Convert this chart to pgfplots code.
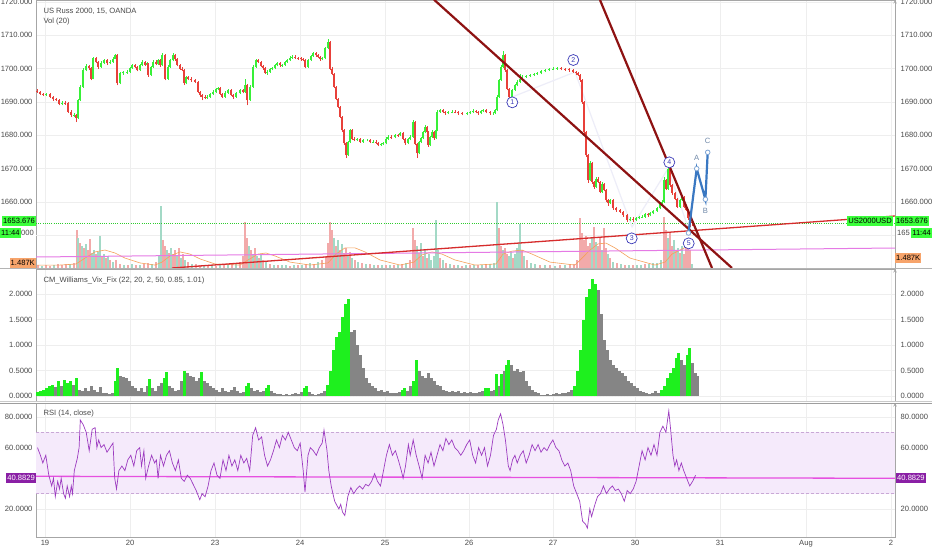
\documentclass[border=0pt]{standalone}
\usepackage{fontspec}
\setmainfont{Liberation Sans}
\usepackage{pgfplots}
\usepackage{pgfplotstable}
\pgfplotsset{compat=1.18}

\definecolor{gridc}{HTML}{EEEEEE}
\definecolor{axc}{HTML}{A6A6A6}
\definecolor{txt}{HTML}{4A4A4A}
\definecolor{candleup}{HTML}{38F038}
\definecolor{candledn}{HTML}{E8403A}
\definecolor{volup}{HTML}{A3D9C6}
\definecolor{voldn}{HTML}{F2AAAA}
\definecolor{volma}{HTML}{F5A15A}
\definecolor{trend}{HTML}{8E1212}
\definecolor{trendred}{HTML}{D62C2C}
\definecolor{orchidl}{HTML}{E57AE5}
\definecolor{lastgreen}{HTML}{3BFF3B}
\definecolor{wave}{HTML}{3A3AB8}
\definecolor{faint}{HTML}{EDEDF8}
\definecolor{abc}{HTML}{3A78C2}
\definecolor{abcl}{HTML}{7FA6D6}
\definecolor{abct}{HTML}{6F88A8}
\definecolor{vixg}{HTML}{1EF01E}
\definecolor{vixgray}{HTML}{858585}
\definecolor{rsic}{HTML}{9C3BC0}
\definecolor{rsiband}{HTML}{F5EAFB}
\definecolor{rsidash}{HTML}{C9A8D6}
\definecolor{rsimid}{HTML}{E650E0}
\definecolor{rsibox}{HTML}{8A1FA5}
\definecolor{volbox}{HTML}{F7A46B}
\definecolor{sepc}{HTML}{B4B4B4}

\newcommand\fs{\fontsize{7.6}{9}\selectfont}

% 15-minute candles, x = horizontal position on the chart
\pgfplotstableread{
x o h l c
37 1693.4 1693.8 1692.8 1693.1
40 1693.1 1693.4 1692.1 1692.5
43 1692.5 1692.8 1691.8 1692.1
46 1692.1 1692.7 1691.8 1692.3
50 1692.3 1692.6 1691.2 1691.6
53 1691.6 1691.9 1690.4 1690.8
56 1690.8 1691.2 1690.2 1690.6
59 1690.6 1690.9 1689.0 1689.4
62 1689.4 1690.3 1689.0 1689.8
65 1689.8 1690.2 1689.2 1689.6
68 1689.6 1689.9 1686.8 1687.1
71 1687.1 1687.5 1685.6 1686.0
74 1686.0 1686.8 1685.5 1686.1
76 1686.1 1686.4 1684.0 1685.2
78 1685.2 1691.0 1685.0 1690.6
80 1690.6 1695.0 1690.3 1694.6
83 1694.6 1700.2 1694.3 1699.6
86 1699.6 1701.3 1699.2 1700.8
89 1700.8 1701.2 1699.6 1700.1
91 1700.1 1700.4 1696.5 1697.0
93 1697.0 1703.6 1696.8 1703.1
96 1703.1 1703.5 1701.6 1702.0
98 1702.0 1702.3 1700.0 1700.6
101 1700.6 1702.2 1700.3 1701.8
104 1701.8 1703.0 1701.4 1702.6
107 1702.6 1702.9 1701.2 1701.6
110 1701.6 1702.6 1701.3 1702.1
113 1702.1 1703.4 1701.8 1703.0
115 1703.0 1704.5 1702.8 1704.1
117 1704.1 1704.3 1695.0 1695.6
120 1695.6 1699.0 1695.3 1698.6
123 1698.6 1699.4 1698.2 1698.9
127 1698.9 1699.6 1698.5 1699.1
130 1699.1 1700.6 1698.8 1700.2
132 1700.2 1701.5 1699.9 1701.1
135 1701.1 1701.5 1700.2 1700.6
137 1700.6 1700.9 1699.2 1699.6
140 1699.6 1701.4 1699.3 1701.0
142 1701.0 1702.5 1700.7 1702.1
145 1702.1 1702.4 1700.8 1701.2
147 1701.2 1702.0 1700.9 1701.6
148 1701.6 1701.8 1697.6 1698.1
151 1698.1 1700.9 1697.8 1700.5
153 1700.5 1702.5 1700.2 1702.1
156 1702.1 1702.5 1701.1 1701.5
158 1701.5 1703.0 1701.2 1702.6
160 1702.6 1702.9 1700.6 1701.0
162 1701.0 1704.6 1700.7 1704.1
165 1704.1 1704.4 1696.5 1697.0
168 1697.0 1701.0 1696.7 1700.6
170 1700.6 1702.9 1700.3 1702.5
173 1702.5 1704.6 1702.2 1704.1
175 1704.1 1704.4 1702.4 1702.8
177 1702.8 1703.1 1700.7 1701.1
180 1701.1 1701.4 1699.6 1700.0
182 1700.0 1700.4 1699.2 1699.6
184 1699.6 1699.9 1695.1 1695.6
186 1695.6 1697.9 1695.3 1697.5
188 1697.5 1697.9 1696.6 1697.0
191 1697.0 1697.4 1696.1 1696.5
195 1696.5 1696.9 1695.7 1696.1
198 1696.1 1696.4 1692.7 1693.1
200 1693.1 1693.4 1691.6 1692.0
202 1692.0 1692.4 1690.5 1691.6
205 1691.6 1692.0 1690.8 1691.2
207 1691.2 1692.0 1690.9 1691.6
210 1691.6 1692.8 1691.3 1692.4
213 1692.4 1693.5 1692.1 1693.1
216 1693.1 1694.2 1692.8 1693.8
218 1693.8 1694.6 1693.5 1694.1
220 1694.1 1694.4 1692.1 1692.5
222 1692.5 1692.8 1691.2 1691.6
225 1691.6 1693.2 1691.3 1692.8
228 1692.8 1694.0 1692.5 1693.6
231 1693.6 1693.9 1691.8 1692.2
233 1692.2 1692.5 1690.9 1691.6
236 1691.6 1693.1 1691.3 1692.7
240 1692.7 1694.0 1692.4 1693.6
243 1693.6 1693.9 1692.6 1693.0
245 1693.0 1696.8 1692.7 1695.1
247 1695.1 1695.4 1689.0 1690.6
250 1690.6 1695.0 1690.3 1694.6
253 1694.6 1701.0 1694.3 1700.6
256 1700.6 1702.9 1700.3 1702.5
258 1702.5 1702.9 1701.7 1702.1
261 1702.1 1702.4 1700.4 1700.8
263 1700.8 1701.1 1699.7 1700.1
265 1700.1 1700.4 1698.4 1698.8
267 1698.8 1699.5 1698.2 1699.1
270 1699.1 1700.2 1698.8 1699.8
272 1699.8 1700.5 1699.5 1700.1
275 1700.1 1701.4 1699.8 1701.0
277 1701.0 1702.0 1700.7 1701.6
280 1701.6 1701.9 1700.6 1701.0
282 1701.0 1701.5 1700.6 1701.1
285 1701.1 1702.4 1700.8 1702.0
287 1702.0 1703.0 1701.7 1702.6
290 1702.6 1703.7 1702.3 1703.3
292 1703.3 1704.0 1703.0 1703.6
295 1703.6 1704.0 1702.9 1703.3
298 1703.3 1703.6 1702.7 1703.1
301 1703.1 1703.4 1702.4 1702.8
303 1702.8 1703.1 1702.2 1702.6
305 1702.6 1702.9 1700.1 1700.6
308 1700.6 1703.0 1700.3 1702.6
311 1702.6 1704.2 1702.3 1703.8
313 1703.8 1705.0 1703.5 1704.6
316 1704.6 1704.9 1703.6 1704.0
318 1704.0 1704.3 1703.2 1703.6
320 1703.6 1703.9 1702.4 1702.8
322 1702.8 1703.5 1702.5 1703.1
325 1703.1 1706.5 1702.8 1706.1
328 1706.1 1708.8 1705.8 1708.0
330 1708.0 1708.3 1699.5 1700.0
332 1700.0 1700.4 1698.0 1698.5
334 1698.5 1698.8 1694.1 1694.6
336 1694.6 1694.9 1690.5 1691.0
338 1691.0 1691.3 1688.1 1688.6
340 1688.6 1688.9 1685.1 1685.6
342 1685.6 1685.9 1681.0 1681.5
344 1681.5 1681.8 1677.1 1677.6
346 1677.6 1677.9 1673.2 1674.1
348 1674.1 1678.4 1673.8 1678.0
350 1678.0 1682.0 1677.7 1681.6
352 1681.6 1681.9 1678.6 1679.0
354 1679.0 1679.4 1678.2 1678.6
357 1678.6 1679.3 1678.2 1678.9
360 1678.9 1679.2 1677.7 1678.1
363 1678.1 1679.0 1677.8 1678.6
367 1678.6 1679.0 1678.2 1678.6
370 1678.6 1678.9 1677.6 1678.0
373 1678.0 1678.5 1677.6 1678.1
376 1678.1 1678.5 1677.4 1677.8
378 1677.8 1678.1 1676.7 1677.1
381 1677.1 1677.7 1676.8 1677.3
383 1677.3 1678.0 1677.0 1677.6
386 1677.6 1679.4 1677.3 1679.0
388 1679.0 1680.0 1678.7 1679.6
391 1679.6 1680.0 1679.0 1679.4
395 1679.4 1680.5 1679.1 1680.1
398 1680.1 1680.5 1679.6 1680.0
400 1680.0 1681.0 1679.7 1680.6
403 1680.6 1680.9 1678.6 1679.0
405 1679.0 1679.3 1677.2 1677.6
408 1677.6 1679.2 1677.3 1678.8
410 1678.8 1680.0 1678.5 1679.6
413 1679.6 1684.6 1679.3 1684.1
415 1684.1 1684.4 1677.0 1677.5
417 1677.5 1677.8 1673.2 1674.6
419 1674.6 1678.4 1674.3 1678.0
421 1678.0 1679.5 1677.7 1679.1
423 1679.1 1681.4 1678.8 1681.0
425 1681.0 1683.0 1680.7 1682.6
427 1682.6 1682.9 1680.6 1681.0
428 1681.0 1681.3 1676.6 1677.1
430 1677.1 1679.9 1676.8 1679.5
432 1679.5 1681.5 1679.2 1681.1
434 1681.1 1681.4 1678.7 1679.1
436 1679.1 1681.9 1678.8 1681.5
437 1681.5 1687.5 1681.2 1687.1
440 1687.1 1688.0 1686.8 1687.6
443 1687.6 1687.9 1686.6 1687.0
445 1687.0 1687.4 1686.2 1686.6
448 1686.6 1687.3 1686.3 1686.9
452 1686.9 1687.5 1686.6 1687.1
455 1687.1 1687.5 1686.6 1687.0
458 1687.0 1687.3 1686.2 1686.6
462 1686.6 1686.9 1686.0 1686.4
467 1686.4 1687.0 1686.0 1686.6
470 1686.6 1687.4 1686.3 1687.0
473 1687.0 1687.8 1686.7 1687.4
476 1687.4 1687.7 1686.6 1687.0
478 1687.0 1687.3 1686.2 1686.6
481 1686.6 1687.6 1686.3 1687.2
483 1687.2 1688.0 1686.9 1687.6
486 1687.6 1687.9 1686.6 1687.0
490 1687.0 1687.3 1686.2 1686.6
493 1686.6 1687.0 1686.2 1686.6
495 1686.6 1688.0 1686.3 1687.6
497 1687.6 1692.0 1687.3 1691.6
499 1691.6 1697.0 1691.3 1696.6
501 1696.6 1701.0 1696.3 1700.6
503 1700.6 1705.2 1700.3 1704.0
505 1704.0 1704.3 1699.1 1699.6
507 1699.6 1699.9 1693.5 1694.0
509 1694.0 1694.3 1690.6 1691.6
512 1691.6 1694.0 1691.3 1693.6
515 1693.6 1695.4 1693.3 1695.0
517 1695.0 1696.5 1694.7 1696.1
520 1696.1 1698.5 1695.8 1697.0
522 1697.0 1698.0 1696.7 1697.6
526 1697.6 1698.2 1697.3 1697.8
530 1697.8 1698.5 1697.5 1698.1
534 1698.1 1698.8 1697.8 1698.4
537 1698.4 1699.0 1698.1 1698.6
541 1698.6 1699.6 1698.3 1699.2
545 1699.2 1700.0 1698.9 1699.6
549 1699.6 1700.3 1699.3 1699.9
553 1699.9 1700.4 1699.6 1700.0
557 1700.0 1700.5 1699.7 1700.1
561 1700.1 1700.5 1699.5 1699.9
565 1699.9 1700.3 1699.4 1699.8
569 1699.8 1700.2 1699.1 1699.5
573 1699.5 1699.9 1698.7 1699.1
576 1699.1 1699.4 1698.2 1698.6
578 1698.6 1698.9 1697.7 1698.1
580 1698.1 1698.4 1696.1 1696.6
582 1696.6 1696.9 1689.5 1690.0
584 1690.0 1690.3 1680.5 1681.0
586 1681.0 1681.3 1673.5 1674.0
588 1674.0 1674.3 1665.8 1666.6
590 1666.6 1672.4 1666.3 1671.6
592 1671.6 1671.9 1665.5 1666.0
594 1666.0 1666.3 1664.0 1664.6
596 1664.6 1667.4 1664.3 1667.0
598 1667.0 1667.4 1665.7 1666.1
600 1666.1 1666.4 1662.6 1663.0
602 1663.0 1665.9 1662.7 1665.5
604 1665.5 1665.8 1663.2 1663.6
606 1663.6 1663.9 1660.1 1660.5
608 1660.5 1660.9 1658.9 1659.6
610 1659.6 1660.9 1659.3 1660.5
613 1660.5 1660.8 1657.7 1658.1
616 1658.1 1658.5 1657.1 1657.5
620 1657.5 1657.9 1656.7 1657.1
623 1657.1 1657.4 1655.6 1656.0
627 1656.0 1656.3 1654.1 1654.6
630 1654.6 1655.4 1654.2 1655.0
633 1655.0 1655.4 1654.0 1654.6
636 1654.6 1655.6 1654.3 1655.2
639 1655.2 1655.8 1654.9 1655.4
642 1655.4 1656.0 1655.1 1655.6
645 1655.6 1656.8 1655.3 1656.4
648 1656.4 1656.8 1655.6 1656.0
650 1656.0 1657.0 1655.7 1656.6
653 1656.6 1657.7 1656.3 1657.3
657 1657.3 1658.5 1657.0 1658.1
660 1658.1 1659.9 1657.8 1659.5
662 1659.5 1660.5 1659.2 1660.1
664 1660.1 1667.5 1659.8 1666.6
666 1666.6 1666.9 1663.6 1664.0
668 1664.0 1670.8 1663.7 1670.0
670 1670.0 1670.3 1664.5 1665.0
672 1665.0 1665.3 1662.2 1662.6
675 1662.6 1662.9 1660.6 1661.0
677 1661.0 1661.3 1658.2 1658.6
680 1658.6 1660.9 1658.3 1660.5
682 1660.5 1662.0 1660.2 1661.6
684 1661.6 1661.9 1658.1 1658.5
686 1658.5 1658.9 1657.2 1657.6
688 1657.6 1657.9 1654.6 1655.1
690 1655.1 1655.4 1652.4 1654.0
692 1654.0 1654.6 1652.8 1653.7
}\candles

% volume in thousands, u = 1 for an up bar
\pgfplotstableread{
x v u
38 1.1 0
42 0.75 1
46 1.1 0
50 0.75 0
54 1.1 1
58 1.5 0
62 1.1 0
66 1.5 0
70 1.5 1
74 1.9 0
77 14.2 0
78 11.2 1
80 9.3 0
82 8.2 1
84 7.5 0
86 9.0 1
88 6.7 0
90 10.8 0
92 5.6 1
94 6.7 1
96 5.2 0
98 6.0 1
100 11.9 1
102 4.5 0
104 5.2 1
106 3.7 0
108 4.5 1
110 3.0 0
113 2.2 1
116 3.0 0
120 1.5 0
124 1.1 1
128 1.1 0
132 1.5 1
136 1.1 0
140 1.1 1
144 1.5 0
148 1.9 0
152 1.5 1
156 2.2 0
159 4.5 1
161 23.1 1
163 10.4 0
165 8.2 0
167 6.7 1
169 5.6 0
171 7.5 1
173 5.2 0
175 6.7 0
177 4.5 1
179 7.5 0
181 3.7 1
183 5.2 0
185 3.0 1
188 2.2 0
192 1.5 1
196 1.5 0
200 1.1 0
204 1.1 1
208 1.1 0
212 1.1 1
216 0.75 0
220 1.1 1
224 1.1 0
228 1.5 1
232 1.5 0
236 1.9 1
240 2.2 0
243 4.5 0
245 17.2 0
247 11.2 0
249 8.2 1
251 6.7 0
253 5.2 1
255 7.5 0
257 4.5 1
259 3.7 0
261 5.2 1
263 3.0 0
266 2.2 1
270 1.5 0
274 1.1 1
278 1.1 0
282 1.1 1
286 1.1 1
290 0.75 0
294 1.1 1
298 1.1 0
302 1.1 1
306 1.5 0
310 1.9 1
314 1.5 0
318 2.2 1
322 3.0 0
326 4.5 0
328 9.3 0
330 17.2 0
332 14.2 0
334 11.2 1
336 8.2 0
338 10.4 1
340 6.7 0
342 9.0 1
344 5.6 0
346 7.5 0
348 4.5 1
350 6.0 0
352 3.7 1
355 3.0 0
358 2.2 1
362 1.9 0
366 1.5 1
370 1.5 0
374 1.1 1
378 1.1 0
382 1.1 1
386 1.1 0
390 1.1 1
394 1.1 0
398 1.1 1
402 1.5 0
406 1.9 1
410 3.0 0
413 14.9 0
415 10.4 0
417 8.2 1
419 5.6 0
421 9.3 1
423 4.5 0
425 6.7 1
427 3.7 0
429 5.2 1
431 3.0 1
434 4.5 1
436 17.9 1
438 6.7 1
440 3.7 0
443 3.0 1
446 1.9 0
450 1.5 1
454 1.1 0
458 1.1 1
462 0.75 0
466 1.1 1
470 1.1 0
474 1.1 1
478 1.1 0
482 1.1 1
486 1.5 0
490 1.5 1
494 1.9 1
497 24.6 1
499 14.9 0
501 8.2 0
503 6.7 1
505 7.5 0
507 5.2 0
509 4.5 1
511 6.0 1
513 3.7 0
515 5.2 1
517 7.5 1
519 9.0 1
520 16.4 1
522 6.7 0
524 4.5 1
527 3.0 0
531 1.9 1
535 1.5 1
540 1.1 0
545 1.1 1
550 1.1 0
555 0.75 1
560 1.1 0
565 1.1 1
570 1.5 0
574 1.5 0
577 3.0 0
580 18.7 0
582 13.1 0
584 10.4 0
586 11.9 0
588 8.2 0
590 9.3 0
592 11.2 1
594 15.3 0
596 9.7 1
598 8.2 0
600 11.2 0
602 6.7 1
604 14.9 0
606 7.5 0
608 5.2 1
610 3.7 0
613 2.2 1
617 1.9 0
621 1.5 1
625 1.1 0
629 1.1 1
633 1.1 0
637 1.1 1
641 1.1 1
645 1.5 0
649 1.5 1
653 1.9 1
657 1.9 1
661 3.0 1
664 19.0 0
666 14.2 0
668 11.2 1
670 13.1 0
672 8.2 0
674 10.4 1
676 6.7 0
678 7.5 1
680 5.6 0
682 8.2 1
684 5.2 0
686 9.0 0
688 9.7 0
690 6.7 0
692 1.5 1
}\volume

\pgfplotstableread{
x v
37 1.1
60 1.1
76 1.5
85 3.7
95 6.0
105 6.7
115 5.6
125 3.7
140 1.9
155 1.1
162 2.2
170 4.5
180 6.0
190 5.2
200 3.4
215 1.5
240 1.1
248 3.0
258 5.2
266 5.6
275 4.5
290 2.2
310 1.1
328 1.9
336 5.2
345 7.5
355 7.5
365 6.0
380 3.0
400 1.1
414 2.2
422 4.9
432 6.0
442 5.2
455 3.0
475 1.1
496 1.5
503 5.2
512 6.3
522 6.7
532 5.2
550 2.2
575 1.1
582 3.7
590 6.7
598 9.0
606 9.3
615 7.5
630 3.7
655 1.1
665 2.2
672 5.2
680 6.7
688 8.2
692 7.8
}\volma

% CM Williams Vix Fix, g = 1 where the bar is highlighted
\pgfplotstableread{
x v g
37 0.08 1
40 0.10 1
43 0.12 1
46 0.15 1
49 0.20 1
52 0.22 1
55 0.18 0
58 0.30 1
61 0.20 0
64 0.32 1
67 0.25 1
70 0.30 1
73 0.22 0
76 0.35 1
79 0.12 0
82 0.10 0
85 0.15 0
88 0.10 0
91 0.20 0
94 0.12 0
97 0.08 0
100 0.18 0
103 0.05 0
106 0.05 0
109 0.04 0
112 0.06 0
115 0.30 1
117 0.55 1
120 0.40 0
123 0.38 0
126 0.35 0
129 0.30 0
132 0.20 0
135 0.15 0
138 0.10 0
141 0.15 0
144 0.08 0
147 0.20 0
149 0.33 1
152 0.15 0
155 0.10 0
158 0.20 0
161 0.25 0
164 0.35 1
166 0.48 1
169 0.20 0
172 0.15 0
175 0.10 0
178 0.12 0
181 0.30 0
184 0.50 1
187 0.45 0
190 0.40 0
193 0.38 0
196 0.30 0
199 0.35 0
201 0.48 1
204 0.30 0
207 0.25 0
210 0.20 0
213 0.15 0
216 0.12 0
219 0.08 0
222 0.15 0
225 0.10 0
228 0.08 0
231 0.12 0
234 0.18 0
237 0.10 0
240 0.05 0
243 0.08 0
246 0.20 1
248 0.25 1
251 0.15 0
254 0.10 0
257 0.12 0
260 0.08 0
263 0.10 0
266 0.15 1
268 0.22 1
271 0.10 0
274 0.05 0
277 0.04 0
280 0.03 0
283 0.02 0
286 0.03 0
289 0.02 0
292 0.04 0
295 0.05 0
298 0.03 0
301 0.08 0
304 0.15 1
306 0.20 1
309 0.08 0
312 0.03 0
315 0.02 0
318 0.03 0
321 0.05 0
324 0.10 0
327 0.22 1
330 0.50 1
333 0.90 1
336 1.15 1
339 1.25 1
342 1.55 1
345 1.80 1
348 1.90 1
351 1.25 0
354 1.30 0
357 1.00 0
360 0.80 0
363 0.55 0
366 0.35 0
369 0.25 0
372 0.20 0
375 0.15 0
378 0.10 0
381 0.12 0
384 0.08 0
387 0.10 0
390 0.05 0
393 0.06 0
396 0.05 0
399 0.08 0
402 0.12 1
404 0.15 1
407 0.10 0
410 0.20 0
413 0.30 1
416 0.70 1
419 0.50 0
422 0.40 0
425 0.35 0
428 0.45 0
431 0.35 0
434 0.30 0
437 0.22 0
440 0.20 0
443 0.12 0
446 0.10 0
449 0.08 0
452 0.10 0
455 0.08 0
458 0.10 0
461 0.06 0
464 0.08 0
467 0.05 0
470 0.08 0
473 0.06 0
476 0.05 0
479 0.08 0
482 0.10 0
485 0.15 1
488 0.15 1
491 0.10 0
494 0.12 0
496 0.43 1
499 0.20 0
501 0.43 1
504 0.50 0
506 0.60 1
508 0.70 1
511 0.60 0
514 0.50 0
517 0.52 0
520 0.48 0
523 0.50 0
526 0.30 0
529 0.20 0
532 0.12 0
535 0.08 0
538 0.05 0
541 0.02 0
544 0.01 0
547 0.03 0
550 0.02 0
553 0.04 0
556 0.05 0
559 0.03 0
562 0.06 0
565 0.05 0
568 0.08 0
571 0.12 0
574 0.20 1
577 0.50 1
580 0.90 1
583 1.50 1
586 1.95 1
589 2.10 1
592 2.30 1
595 2.20 1
598 2.08 0
601 1.60 0
604 1.10 0
607 0.90 0
610 0.70 0
613 0.60 0
616 0.55 0
619 0.50 0
622 0.45 0
625 0.40 0
628 0.30 0
631 0.25 0
634 0.20 0
637 0.15 0
640 0.10 0
643 0.08 0
646 0.05 0
649 0.04 0
652 0.06 0
655 0.10 0
658 0.05 0
661 0.12 1
664 0.20 1
667 0.35 1
670 0.45 1
673 0.55 1
676 0.75 1
678 0.85 1
681 0.70 0
684 0.60 0
687 0.80 1
689 0.95 1
692 0.65 0
695 0.45 0
697 0.40 0
}\vix

\pgfplotstableread{
x r
37.5 60
40.4 55
42.8 50
45.8 55
48.8 42
51.7 35
53.5 40
55.3 28
57.7 38
59.5 33
61.2 40
63.6 30
65.4 27
67.2 35
69.6 28
71.3 35
72.5 30
74.3 45
77.3 53
79.1 60
80.3 78
83.2 75
86.2 70
89.2 58
92.2 72
95.1 73
96.9 60
98.7 65
101.1 60
104 62
107 57
110 60
113 63
114.7 40
116.5 33
118.9 45
121.9 48
124.9 45
127.8 52
130.8 55
133.8 48
136.7 58
139.7 60
141.5 48
143.9 58
145.7 40
148.6 48
151.6 55
154.6 50
156.4 52
158.1 40
160.5 55
163.5 48
166.5 55
169.4 58
172.4 50
175.4 45
178.4 52
181.3 40
184.3 38
187.3 42
190.2 40
193.2 36
196.2 32
199.8 26
202.1 30
205.1 28
208.1 35
211 45
214 50
217 42
220 40
223 52
226 45
228.9 55
231.9 48
234.8 52
237.8 45
240.8 55
243.8 50
246.7 53
249.7 45
252.7 68
255.6 73
258.6 65
261.6 67
264.6 55
267.5 48
270.5 52
273.5 58
276.5 65
279.4 60
282.4 68
285.4 65
288.3 70
291.3 65
294.3 60
297.3 58
300.2 63
303.2 45
305 31
308 55
310.3 60
313.3 58
316.3 55
319.3 60
322.2 63
324 71.5
327 58
328.8 45
331.2 35
332.9 30
334.7 25
337.1 22
338.9 20
340.7 23
342.5 18
344.8 15.7
347.8 28
350.8 34
353.7 30
356.7 33
359.7 35
362.7 33
365.6 36
368.6 35
371.6 38
374.6 43
377.5 38
380.5 35
383.5 45
386.4 55
389.4 62
392.4 55
395.4 58
398.3 52
401.3 45
403.1 40
405.5 48
408.4 62
410.2 55
413.2 65
416.2 55
419.1 48
422.1 40
425.1 55
428.1 50
431 57
434 48
437 55
440 62
442.9 58
445.9 66
448.9 62
451.8 65
454.8 60
457.8 58
460.8 55
463.7 58
466.7 62
469.7 65
472.7 55
475.6 50
478.6 60
481.6 55
484.5 60
487.5 48
490.5 55
493.5 68
496.4 72
498.2 78
500.6 82
503 75
505.4 65
508.3 48
510.1 45
512.5 52
514.9 55
517.2 50
520.2 55
523.2 58
526.2 50
529.1 55
532.1 62
535.1 58
538.1 62
541 57
544 60
547 58
549.9 62
552.9 65
555.9 60
558.9 58
561.8 52
564.8 48
567.8 50
570.7 45
573.7 35
576.7 30
579.7 25
582.6 12
585.6 10
587.4 7.5
589.8 20
591.6 15
594.5 22
597.5 28
600.5 30
603.4 35
606.4 30
609.4 33
612.4 35
615.3 32
618.3 33
621.3 30
624.3 25
627.2 32
630.2 30
633.2 33
636.1 38
639.1 48
642.1 58
645.1 52
648 60
651 55
654 62
657 55
659.9 70
662.9 74
665.9 70
668.8 84
670.6 72
673 55
674.8 48
676.6 52
678.9 45
681.3 50
683.7 45
686.7 40
689.7 35
692.6 38
695.6 42
}\rsi

\pgfplotsset{
  pane/.style={scale only axis, width=859pt, xmin=36, xmax=895,
    anchor=north west,
    xtick={45,130,215,300,385,469,553,635,720,806,891},
    xticklabels={},
    tick style={draw=none},
    grid style={draw=gridc, line width=0.6pt},
    xmajorgrids, ymajorgrids,
    axis line style={draw=axc, line width=0.6pt},
    yticklabel style={font=\fs, text=txt},
    extra y tick style={grid=major, tick style={draw=none}},
    /pgf/number format/assume math mode=true},
  layer/.style={scale only axis, width=859pt, xmin=36, xmax=895,
    anchor=north west, hide axis},
  rightlab/.style={scale only axis, width=859pt, xmin=36, xmax=895,
    anchor=north west, axis x line=none, axis y line=right,
    tick style={draw=none},
    axis line style={draw=axc, line width=0.6pt},
    yticklabel style={font=\fs, text=txt},
    /pgf/number format/assume math mode=true},
  price/.style={height=268pt, ymin=1640.2, ymax=1720.6,
    ytick={1660,1670,...,1720},
    yticklabel style={/pgf/number format/fixed, /pgf/number format/fixed zerofill,
      /pgf/number format/precision=3, /pgf/number format/1000 sep={}}},
  vixp/.style={height=132pt, ymin=-0.098, ymax=2.49,
    ytick={0,0.5,1,1.5,2},
    yticklabel style={/pgf/number format/fixed, /pgf/number format/fixed zerofill,
      /pgf/number format/precision=4}},
  rsip/.style={height=134pt, ymin=1.7, ymax=89.1,
    ytick={20,60,80},
    yticklabel style={/pgf/number format/fixed, /pgf/number format/fixed zerofill,
      /pgf/number format/precision=4}},
}

\begin{document}
\begin{tikzpicture}
\path[use as bounding box, fill=white] (0,0) rectangle (932pt,-550pt);

% ---------- price pane: grid and left scale
\begin{axis}[pane, price, at={(36pt,0pt)},
  extra y ticks={1650}, extra y tick labels={}]
\end{axis}

% ---------- volume overlay
\begin{axis}[layer, at={(36pt,0pt)}, height=268pt, ymin=0, ymax=100]
\addplot[ycomb, voldn, line width=1.6pt, restrict expr to domain={\thisrow{u}}{-0.5:0.5}]
  table[x=x, y=v] {\volume};
\addplot[ycomb, volup, line width=1.6pt, restrict expr to domain={\thisrow{u}}{0.5:1.5}]
  table[x=x, y=v] {\volume};
\addplot[volma, line width=0.6pt] table[x=x, y=v] {\volma};
\end{axis}

% ---------- candles, lines and wave count
\begin{axis}[rightlab, price, at={(36pt,0pt)}]
\addplot[orchidl, line width=1pt] coordinates {(36,1643.5) (895,1646.2)};
\addplot[lastgreen!80!black, line width=0.6pt, dash pattern=on 1pt off 1.2pt]
  coordinates {(36,1653.676) (895,1653.676)};
\addplot[faint, line width=1.2pt]
  coordinates {(508,1691) (575,1699) (632,1652.5) (668,1670) (689,1651.5)};
% wicks
\addplot[draw=none, mark=none,
  restrict expr to domain={\thisrow{c}-\thisrow{o}}{0:100},
  error bars/.cd, y dir=plus, y explicit, error mark=none,
  error bar style={draw=candleup, line width=0.5pt, solid}]
  table[x=x, y=l, y error plus expr={\thisrow{h}-\thisrow{l}}] {\candles};
\addplot[draw=none, mark=none,
  restrict expr to domain={\thisrow{c}-\thisrow{o}}{-100:-0.001},
  error bars/.cd, y dir=plus, y explicit, error mark=none,
  error bar style={draw=candledn, line width=0.5pt, solid}]
  table[x=x, y=l, y error plus expr={\thisrow{h}-\thisrow{l}}] {\candles};
% bodies
\addplot[draw=none, mark=none,
  restrict expr to domain={\thisrow{c}-\thisrow{o}}{0:100},
  error bars/.cd, y dir=plus, y explicit, error mark=none,
  error bar style={draw=candleup, line width=1.5pt, solid}]
  table[x=x, y=o, y error plus expr={\thisrow{c}-\thisrow{o}}] {\candles};
\addplot[draw=none, mark=none,
  restrict expr to domain={\thisrow{c}-\thisrow{o}}{-100:-0.001},
  error bars/.cd, y dir=plus, y explicit, error mark=none,
  error bar style={draw=candledn, line width=1.5pt, solid}]
  table[x=x, y=c, y error plus expr={\thisrow{o}-\thisrow{c}}] {\candles};
% trend lines
\addplot[trendred, line width=1.3pt] coordinates {(172,1640.2) (895,1655.8)};
\addplot[trend, line width=2.2pt] coordinates {(434,1720.7) (732,1640.2)};
\addplot[trend, line width=2.2pt] coordinates {(600,1720.6) (712,1640.2)};
% projected A-B-C
\addplot[abc, line width=2.2pt, mark=*, mark size=2.3pt,
  mark options={fill=white, draw=abcl, line width=0.8pt}]
  coordinates {(688.5,1650.7) (696.7,1670.0) (705.4,1660.8) (707.7,1674.9)};
\node[text=abct, font=\fs] at (axis cs:696.7,1673.2) {A};
\node[text=abct, font=\fs] at (axis cs:705.4,1657.4) {B};
\node[text=abct, font=\fs] at (axis cs:707.7,1678.2) {C};
\tikzset{wv/.style={circle, draw=wave, fill=white, text=wave, line width=0.7pt,
  inner sep=0pt, minimum size=11pt, font=\fontsize{7}{8}\selectfont}}
\node[wv] at (axis cs:512.3,1689.9) {1};
\node[wv] at (axis cs:573.3,1702.6) {2};
\node[wv] at (axis cs:631.7,1649.1) {3};
\node[wv] at (axis cs:669.3,1671.9) {4};
\node[wv] at (axis cs:688.7,1647.6) {5};
\end{axis}

% ---------- Vix Fix pane
\begin{axis}[pane, vixp, at={(36pt,-269pt)}]
\addplot[ycomb, vixgray, line width=3pt, restrict expr to domain={\thisrow{g}}{-0.5:0.5}]
  table[x=x, y=v] {\vix};
\addplot[ycomb, vixg, line width=3pt, restrict expr to domain={\thisrow{g}}{0.5:1.5}]
  table[x=x, y=v] {\vix};
\end{axis}
\begin{axis}[rightlab, vixp, at={(36pt,-269pt)}]
\end{axis}

% ---------- RSI pane
\begin{axis}[pane, rsip, at={(36pt,-403pt)},
  extra y ticks={40}, extra y tick labels={},
  xticklabels={19,20,23,24,25,26,27,30,31,Aug,2},
  xticklabel style={font=\fs, text=txt}]
\addplot[draw=none, fill=rsiband] coordinates {(36,30) (895,30) (895,70) (36,70)};
\addplot[rsidash, line width=0.6pt, dash pattern=on 3pt off 2pt] coordinates {(36,70) (895,70)};
\addplot[rsidash, line width=0.6pt, dash pattern=on 3pt off 2pt] coordinates {(36,30) (895,30)};
\addplot[rsimid, line width=1.3pt] coordinates {(36,41.3) (895,40.0)};
\addplot[rsic, line width=0.7pt] table[x=x, y=r] {\rsi};
\end{axis}
\begin{axis}[rightlab, rsip, at={(36pt,-403pt)}]
\end{axis}

% ---------- pane separators
\draw[sepc, line width=0.8pt] (0,-268.6pt) -- (932pt,-268.6pt);
\draw[sepc!70, line width=1pt] (0,-401.5pt) -- (932pt,-401.5pt);
\draw[sepc!130, line width=1pt] (0,-403.2pt) -- (932pt,-403.2pt);

% ---------- titles
\node[anchor=west, font=\fs, text=txt] at (40pt,-11pt) {US Russ 2000, 15, OANDA};
\node[anchor=west, font=\fs, text=txt] at (40pt,-22pt) {Vol (20)};
\node[anchor=west, font=\fs, text=txt] at (40pt,-281pt) {CM\_Williams\_Vix\_Fix (22, 20, 2, 50, 0.85, 1.01)};
\node[anchor=west, font=\fs, text=txt] at (40pt,-414pt) {RSI (14, close)};

% ---------- value boxes
\tikzset{bx/.style={inner sep=1pt, font=\fs, minimum height=10pt}}
\node[bx, fill=lastgreen, anchor=east] at (36pt,-221pt) {1653.676};
\node[bx, fill=lastgreen, anchor=west] at (0pt,-233pt) {11:44};
\node[anchor=east, font=\fs, text=txt, inner sep=1pt] at (35pt,-233pt) {000};
\node[bx, fill=volbox, anchor=east] at (36pt,-263pt) {1.487K};
\node[bx, fill=lastgreen, anchor=east] at (893pt,-221pt) {US2000USD};
\node[bx, fill=lastgreen, anchor=west] at (895pt,-221pt) {1653.676};
\node[anchor=west, font=\fs, text=txt, inner sep=1pt] at (896pt,-233pt) {165};
\node[bx, fill=lastgreen, anchor=east] at (932pt,-233pt) {11:44};
\node[bx, fill=volbox, anchor=west] at (895pt,-258pt) {1.487K};
\node[bx, fill=rsibox, text=white, anchor=east] at (36pt,-478pt) {40.8829};
\node[bx, fill=rsibox, text=white, anchor=west] at (896pt,-478pt) {40.8829};
\end{tikzpicture}
\end{document}
